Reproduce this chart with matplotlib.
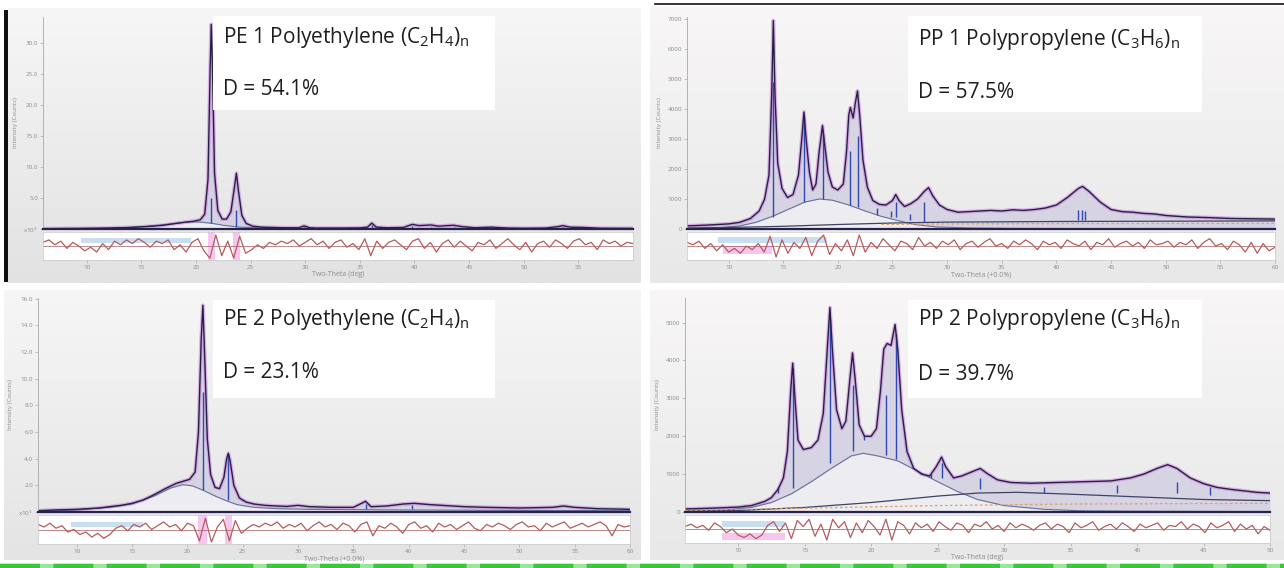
import numpy as np
import matplotlib
matplotlib.use("Agg")
import matplotlib.pyplot as plt
from matplotlib.patches import Rectangle
from matplotlib.lines import Line2D
from matplotlib.colors import LinearSegmentedColormap

plt.rcParams['font.family'] = ['Open Sans', 'DejaVu Sans']
plt.rcParams['mathtext.fontset'] = 'custom'
plt.rcParams['mathtext.rm'] = 'Open Sans'

W, H = 1284, 568

## ---------------- data ----------------
# PE 1 (intensity in 10^3 counts)
pe1_x = [6, 8, 10, 12, 14, 16, 17, 18, 19, 19.8, 20.4, 20.8, 21.1, 21.3, 21.4, 21.5, 21.7, 22.0,
         22.4, 22.8, 23.2, 23.5, 23.7, 23.9, 24.2, 24.6, 25.2, 26, 27, 28, 29.4, 29.9, 30.4, 31,
         33, 35, 35.7, 36.1, 36.5, 37.5, 39, 39.8, 40.4, 41, 41.5, 42.2, 43, 43.6, 44.3, 45.5,
         47, 48.5, 50, 52, 53.2, 53.6, 54.2, 55.5, 57, 60]
pe1_y = [0.05, 0.08, 0.1, 0.15, 0.25, 0.45, 0.6, 0.85, 1.1, 1.25, 1.5, 2.4, 8, 26, 33, 27, 9, 3.0,
         1.6, 1.6, 2.8, 6.5, 9.0, 6.0, 2.2, 0.9, 0.45, 0.3, 0.25, 0.2, 0.2, 0.5, 0.2, 0.15,
         0.15, 0.18, 0.3, 0.95, 0.3, 0.2, 0.25, 0.75, 0.55, 0.6, 0.65, 0.45, 0.55, 0.6, 0.4, 0.2,
         0.3, 0.15, 0.12, 0.15, 0.4, 0.55, 0.3, 0.25, 0.12, 0.1]
pe1_am_x = [6, 10, 13, 15, 17, 18.5, 19.5, 20.5, 21.5, 22.5, 24, 26, 28, 31, 35, 40, 50, 60]
pe1_am_y = [0.03, 0.08, 0.18, 0.35, 0.7, 1.0, 1.15, 1.1, 0.9, 0.6, 0.3, 0.15, 0.1, 0.08, 0.07, 0.06, 0.05, 0.05]
pe1_st_x = [21.4, 23.7, 29.9, 36.1, 39.8, 41.5, 43.6, 53.6, 55.0]
pe1_st_lo = [0.9, 0.3, 0.1, 0.1, 0.1, 0.1, 0.1, 0.1, 0.1]
pe1_st_hi = [5.0, 3.0, 0.4, 0.7, 0.5, 0.4, 0.4, 0.4, 0.3]
pe1_res = [0.3, 0.5, 0.1, 0.4, -0.2, 0.3, 0.0, -0.4, -0.1, -0.5, 0.2, -0.3, 0.4, 0.1, 0.5, 0.2, 0.6, 0.3, -0.1, 0.4,
           0.2, 0.5, -0.3, 0.1, -0.5, 0.3, 0.6, -0.4, -1.0, 0.9, -0.8, 0.4, -1.0, 0.8, -0.6, -0.3, 0.1, -0.2, 0.3, 0.1,
           0.4, 0.2, 0.5, 0.0, 0.3, 0.6, 0.1, 0.4, -0.2, 0.3, 0.5, -0.1, 0.2, -0.3, 0.6, -0.8, 0.4, -0.2, 0.3, 0.5,
           0.1, -0.3, 0.4, 0.6, -0.2, 0.3, -0.5, 0.2, 0.5, -0.1, 0.4, 0.0, -0.4, 0.3, 0.1, 0.5, -0.2, 0.2, 0.6, 0.1,
           -0.3, 0.3, -0.5, 0.2, 0.4, -0.1, 0.5, 0.2, -0.2, 0.4, 0.6, 0.1, 0.3, -0.3, 0.5, 0.2, 0.4, 0.0, 0.3, 0.2]

# PP 1 (counts)
pp1_x = [6, 8, 10, 11, 12, 12.8, 13.3, 13.7, 13.95, 14.1, 14.25, 14.5, 14.9, 15.4, 15.9, 16.4, 16.7,
         16.9, 17.1, 17.4, 17.7, 18.0, 18.3, 18.6, 18.8, 19.1, 19.5, 20.0, 20.5, 20.8, 21.0, 21.15,
         21.4, 21.6, 21.8, 22.0, 22.3, 22.7, 23.2, 23.8, 24.4, 25.0, 25.3, 25.6, 26.1, 26.7, 27.3,
         27.9, 28.3, 28.7, 29.3, 30, 31, 32, 33, 34, 35, 36, 37, 38, 39, 40, 41, 42, 42.4, 43, 44,
         45, 46, 47, 48, 49, 50, 52, 54, 56, 58, 60]
pp1_y = [100, 130, 170, 220, 350, 600, 1000, 1800, 4500, 6950, 4500, 2200, 1350, 1050, 1150, 1800, 3000,
         3900, 3000, 1900, 1300, 1500, 2600, 3450, 2800, 1900, 1400, 1300, 1500, 2600, 3800, 4050,
         3700, 4200, 4600, 3800, 2300, 1400, 950, 820, 800, 950, 1150, 950, 750, 850, 1000,
         1250, 1380, 1100, 800, 650, 560, 580, 600, 620, 600, 640, 620, 650, 700, 800, 1050, 1350, 1420, 1250, 900,
         650, 580, 560, 520, 500, 450, 400, 380, 350, 340, 330]
pp1_am_x = [6, 9, 11, 12.5, 14, 15.5, 17, 18.3, 19.5, 21, 22.5, 24, 25.5, 27, 29, 32, 36, 40, 45, 50, 55, 60]
pp1_am_y = [20, 40, 100, 220, 420, 660, 900, 1000, 960, 800, 600, 420, 280, 150, 70, 35, 20, 15, 10, 10, 10, 10]
pp1_bg_x = [6, 10, 15, 20, 25, 30, 40, 50, 60]
pp1_bg_y = [30, 50, 90, 150, 200, 230, 250, 260, 270]
pp1_or_x = [24, 30, 40, 50, 60]
pp1_or_y = [150, 170, 180, 185, 190]
pp1_st_x = [14.1, 16.9, 18.6, 21.1, 21.85, 23.6, 24.9, 25.3, 26.6, 27.9, 42.0, 42.3, 42.6]
pp1_st_lo = [400, 900, 1000, 800, 750, 480, 400, 400, 300, 250, 300, 300, 300]
pp1_st_hi = [4900, 3800, 3200, 2600, 3100, 700, 600, 900, 500, 900, 650, 650, 600]
pp1_res = [0.3, 0.1, 0.4, -0.2, 0.2, -0.4, 0.1, -0.5, -0.2, -0.6, 0.0, -0.3, 0.2, -0.5, 0.8, -0.9, 0.5, -0.6, 0.3, -0.2,
           0.7, -0.8, 0.4, 0.9, -0.7, 0.2, -0.4, 0.5, -0.8, 0.9, -0.5, 0.3, -0.2, 0.6, 0.1, -0.4, 0.4, 0.2, -0.3, 0.7,
           0.0, 0.3, -0.2, 0.4, 0.1, 0.5, -0.3, 0.2, 0.4, -0.1, 0.3, 0.6, 0.0, 0.2, -0.2, 0.4, 0.1, 0.5, 0.2, -0.3,
           0.4, 0.1, 0.3, -0.2, 0.5, 0.2, 0.0, 0.4, -0.3, 0.3, 0.1, 0.6, -0.1, 0.2, 0.4, 0.0, 0.3, -0.2, 0.5, 0.1,
           0.2, 0.4, -0.1, 0.3, 0.1, 0.5, -0.2, 0.3, 0.6, 0.0, 0.2, -0.3, 0.4, 0.1, -0.5, 0.3, -0.6, 0.2, -0.4, -0.1]

# PE 2 (intensity in 10^3 counts)
pe2_x = [6.5, 8, 10, 12, 14, 15, 16, 17, 18, 19, 19.6, 20.2, 20.7, 21.0, 21.25, 21.4, 21.55, 21.8,
         22.1, 22.5, 22.9, 23.3, 23.55, 23.7, 23.85, 24.2, 24.7, 25.3, 26, 27, 28, 29, 30, 31, 33,
         35, 36.1, 36.6, 38, 39.5, 40.5, 42, 43, 45, 47, 50, 53, 54, 55, 57, 60]
pe2_y = [0.1, 0.15, 0.2, 0.3, 0.5, 0.65, 0.9, 1.3, 1.75, 2.15, 2.3, 2.45, 3.0, 6, 13, 15.5, 12, 5.5,
         2.8, 1.85, 1.75, 2.6, 4.0, 4.4, 3.9, 2.0, 1.05, 0.75, 0.6, 0.5, 0.45, 0.42, 0.5, 0.4, 0.35,
         0.35, 0.8, 0.4, 0.45, 0.6, 0.65, 0.55, 0.5, 0.4, 0.35, 0.3, 0.35, 0.45, 0.35, 0.25, 0.2]
pe2_am_x = [6.5, 10, 13, 15, 17, 18.5, 19.6, 20.5, 21.5, 22.5, 23.5, 24.5, 26, 28, 31, 35, 40, 50, 60]
pe2_am_y = [0.05, 0.15, 0.35, 0.6, 1.2, 1.8, 2.05, 1.95, 1.6, 1.2, 0.85, 0.55, 0.35, 0.25, 0.2, 0.18, 0.15, 0.12, 0.1]
pe2_st_x = [21.4, 23.7, 36.1, 40.3]
pe2_st_lo = [1.65, 0.9, 0.2, 0.2]
pe2_st_hi = [9.0, 4.4, 0.6, 0.5]
pe2_res = [0.4, 0.2, 0.5, 0.1, 0.3, -0.2, 0.0, -0.4, -0.2, -0.6, -0.3, -0.7, -0.4, 0.1, 0.3, -0.1, 0.4, 0.2, 0.5, 0.0,
           0.3, 0.6, 0.2, 0.4, -0.1, 0.5, 0.3, -0.9, 0.9, -1.0, 0.2, 0.8, -0.9, 0.7, -0.3, 0.1, 0.4, 0.2, 0.5, 0.3,
           0.6, 0.1, 0.4, 0.2, 0.5, -0.1, 0.3, 0.6, 0.2, 0.4, 0.0, 0.5, 0.3, -0.2, 0.4, 0.6, -0.5, 0.3, 0.1, 0.5,
           0.2, -0.3, 0.4, 0.6, 0.1, 0.3, -0.2, 0.5, 0.2, 0.4, 0.0, 0.3, 0.6, 0.1, -0.1, 0.4, 0.2, 0.5, 0.3, 0.0,
           0.4, 0.6, 0.2, 0.3, -0.1, 0.5, 0.2, 0.4, 0.6, 0.1, 0.3, 0.5, 0.2, 0.4, 0.6, 0.3, -0.5, 0.4, 0.2, 0.3]

# PP 2 (counts)
pp2_x = [6, 8, 10, 11, 12, 12.5, 13.0, 13.4, 13.7, 13.95, 14.1, 14.25, 14.5, 14.9, 15.5, 16.0, 16.4,
         16.7, 16.9, 17.1, 17.4, 17.8, 18.1, 18.4, 18.6, 18.8, 19.1, 19.5, 20.0, 20.4, 20.7, 20.95,
         21.2, 21.5, 21.8, 22.0, 22.3, 22.7, 23.2, 23.8, 24.4, 24.9, 25.3, 25.6, 26.2, 26.8, 27.5,
         28.2, 28.8, 29.5, 30.5, 32, 34, 36, 38, 39.5, 40.5, 41.5, 42.3, 43, 44, 45, 46, 47, 48, 49, 50]
pp2_y = [80, 100, 130, 170, 280, 380, 600, 900, 1600, 3200, 3930, 3100, 1900, 1650, 1700, 1900, 2600,
         4300, 5400, 4200, 2700, 2200, 2400, 3500, 4200, 3500, 2300, 2000, 2000, 2200, 3200, 4300,
         4450, 4400, 4950, 4300, 2700, 1600, 1150, 1000, 950, 1200, 1450, 1200, 900, 950, 1050,
         1150, 1000, 850, 780, 760, 780, 800, 820, 900, 1000, 1150, 1250, 1150, 900, 750, 650, 600, 560, 520, 500]
pp2_am_x = [6, 9, 11, 12.5, 14, 15.5, 17, 18.5, 19.4, 20.5, 22, 23.5, 25, 26.5, 28, 30, 33, 36, 40, 45, 50]
pp2_am_y = [20, 50, 120, 250, 480, 800, 1150, 1480, 1550, 1480, 1350, 1080, 800, 540, 330, 170, 70, 30, 20, 15, 10]
pp2_bg_x = [6, 10, 15, 20, 25, 28, 31, 35, 40, 45, 50]
pp2_bg_y = [20, 40, 120, 250, 420, 500, 520, 470, 400, 330, 300]
pp2_or_x = [6, 15, 25, 35, 50]
pp2_or_y = [40, 100, 170, 210, 230]
pp2_st_x = [13.0, 14.1, 16.9, 18.6, 19.5, 21.1, 21.9, 24.5, 25.3, 28.2, 33.0, 38.5, 43.0, 45.5]
pp2_st_lo = [500, 630, 1300, 1600, 1900, 1500, 1400, 900, 900, 600, 500, 500, 500, 450]
pp2_st_hi = [650, 3800, 5100, 3350, 2000, 3100, 4700, 1000, 1300, 900, 650, 700, 800, 650]
pp2_res = [0.2, 0.4, 0.1, 0.3, -0.1, 0.5, 0.2, -0.3, 0.0, -0.5, -0.7, -0.4, -0.8, -0.5, 0.3, 0.6, -0.2, 0.5, -0.8, 0.7,
           0.2, 0.8, -0.6, 0.4, -0.9, 0.8, 0.1, 0.6, -0.7, 0.5, -0.3, 0.7, 0.2, -0.5, 0.8, -0.9, 0.6, 0.3, -0.4, 0.5,
           0.1, 0.4, -0.2, 0.6, 0.2, -0.1, 0.5, 0.3, -0.3, 0.4, 0.2, 0.6, 0.0, 0.3, -0.2, 0.5, 0.1, 0.4, 0.2, -0.1,
           0.3, 0.5, 0.0, 0.4, 0.2, -0.3, 0.5, 0.1, 0.3, 0.6, -0.1, 0.2, 0.4, 0.0, 0.5, 0.2, -0.2, 0.4, 0.1, 0.3,
           0.5, -0.1, 0.3, 0.2, 0.6, 0.0, 0.4, 0.2, -0.3, 0.5, 0.1, 0.3, 0.6, -0.2, 0.4, 0.0, 0.3, -0.4, 0.2, -0.1]

pe_ticks = [5, 10, 15, 20, 25, 30]
pe2_ticks = [2, 4, 6, 8, 10, 12, 14, 16]
pp1_ticks = [1000, 2000, 3000, 4000, 5000, 6000, 7000]
pp2_ticks = [1000, 2000, 3000, 4000, 5000]

titles = [r'PE 1 Polyethylene (C$_2$H$_4$)$_{\mathrm{n}}$', r'PP 1 Polypropylene (C$_3$H$_6$)$_{\mathrm{n}}$',
          r'PE 2 Polyethylene (C$_2$H$_4$)$_{\mathrm{n}}$', r'PP 2 Polypropylene (C$_3$H$_6$)$_{\mathrm{n}}$']
d_values = ['D = 54.1%', 'D = 57.5%', 'D = 23.1%', 'D = 39.7%']


def box(x0, y0, x1, y1):
    return [x0 / W, 1 - y1 / H, (x1 - x0) / W, (y1 - y0) / H]


fig = plt.figure(figsize=(W / 100, H / 100), dpi=100)
fig.patch.set_facecolor('white')

## grey gradient backgrounds of the four screenshots
grad = np.linspace(0, 1, 256).reshape(-1, 1)
for (x0, y0, x1, y1), c_top, c_bot in [((8, 8, 641, 283), '#f6f6f6', '#e2e2e2'),
                                        ((650, 6, 1284, 283), '#f8f6f6', '#e8e8e8'),
                                        ((4, 290, 641, 560), '#f6f6f6', '#e4e4e4'),
                                        ((650, 290, 1284, 560), '#f8f6f6', '#e8e8e8')]:
    bga = fig.add_axes(box(x0, y0, x1, y1), zorder=-5)
    bga.imshow(grad, aspect='auto', cmap=LinearSegmentedColormap.from_list('g', [c_top, c_bot]),
               extent=[0, 1, 0, 1])
    bga.axis('off')


def draw_panel(main_px, res_px, xlim, ylim, yticks, ylabels, xticks, xlabel,
               ox, oy, ax_, ay_, sx, slo, shi, res, bands, bg=None, orange=None):
    ax = fig.add_axes(box(*main_px))
    ax.patch.set_alpha(0)
    ax.set_xlim(*xlim)
    ax.set_ylim(*ylim)
    ax.fill_between(ox, oy, 0, color='#cfcbe0', lw=0, alpha=0.75)
    ax.fill_between(ax_, ay_, 0, color='#f0f0f3', lw=0, alpha=0.9)
    ax.plot(ox, oy, color='#cc80dc', lw=2.8, alpha=0.55, solid_joinstyle='round')
    ax.plot(ax_, ay_, color='#66709a', lw=0.8)
    if bg is not None:
        ax.plot(bg[0], bg[1], color='#3f4262', lw=0.9)
    if orange is not None:
        ax.plot(orange[0], orange[1], color='#e0a060', lw=0.9, ls=(0, (2, 2)))
    ax.vlines(sx, slo, shi, color='#3048b0', lw=1.0)
    ax.plot(ox, oy, color='#242046', lw=1.0, solid_joinstyle='round')
    for s in ['top', 'right']:
        ax.spines[s].set_visible(False)
    ax.spines['left'].set_color('#a8a8a8')
    ax.spines['left'].set_linewidth(0.6)
    ax.spines['bottom'].set_color('#26224a')
    ax.spines['bottom'].set_linewidth(1.6)
    ax.set_xticks([])
    ax.set_yticks([0] + yticks)
    ax.set_yticklabels(ylabels, fontsize=4.5, color='#8c8c8c')
    ax.tick_params(axis='y', length=2, width=0.5, color='#a8a8a8', pad=1.5)
    ax.set_ylabel('Intensity (Counts)', fontsize=4.5, color='#8c8c8c', labelpad=4)

    rx = fig.add_axes(box(*res_px))
    rx.set_facecolor('white')
    rx.set_xlim(*xlim)
    rx.set_ylim(-1.15, 1.15)
    for a, b, col, lo, hi in bands:
        rx.axvspan(a, b, ymin=lo, ymax=hi, color=col, lw=0, alpha=0.8)
    rx.axhline(0, color='#a45a5a', lw=0.5)
    res_x = np.linspace(xlim[0], xlim[1], len(res))
    rx.plot(res_x, res, color='#c9625f', lw=0.9)
    rx.plot(res_x, res, color='#6d5d6d', lw=0.3, alpha=0.6)
    for s in rx.spines.values():
        s.set_color('#c8c8c8')
        s.set_linewidth(0.5)
    rx.set_yticks([])
    rx.set_xticks(xticks)
    rx.set_xticklabels([str(t) for t in xticks], fontsize=4.5, color='#8c8c8c')
    rx.tick_params(axis='x', length=2, width=0.5, color='#a8a8a8', pad=1.5)
    rx.set_xlabel(xlabel, fontsize=5, color='#8c8c8c', labelpad=1)


blue = '#bcd6ec'
pink = '#f4b8ee'

draw_panel((43, 17, 633, 229), (43, 232, 633, 260), (6, 60), (0, 34.2), pe_ticks,
           ['x10$^3$'] + ['%.1f' % t for t in pe_ticks], list(range(10, 60, 5)), 'Two-Theta (deg)',
           pe1_x, pe1_y, pe1_am_x, pe1_am_y, pe1_st_x, pe1_st_lo, pe1_st_hi, pe1_res,
           [(9.5, 19.5, blue, 0.62, 0.8), (21.1, 21.7, pink, 0, 1), (23.4, 24.0, pink, 0, 1)])

draw_panel((687, 17, 1275, 229), (687, 232, 1275, 260), (6.2, 60), (0, 7067), pp1_ticks,
           ['0'] + [str(t) for t in pp1_ticks], list(range(10, 65, 5)), 'Two-Theta (+0.0%)',
           pp1_x, pp1_y, pp1_am_x, pp1_am_y, pp1_st_x, pp1_st_lo, pp1_st_hi, pp1_res,
           [(9.0, 19.0, blue, 0.62, 0.82), (9.5, 14.0, pink, 0.2, 0.5)],
           bg=(pp1_bg_x, pp1_bg_y), orange=(pp1_or_x, pp1_or_y))

draw_panel((38, 298, 630, 512), (38, 515, 630, 544), (6.5, 60), (0, 16.05), pe2_ticks,
           ['x10$^3$'] + ['%.1f' % t for t in pe2_ticks], list(range(10, 65, 5)), 'Two-Theta (+0.0%)',
           pe2_x, pe2_y, pe2_am_x, pe2_am_y, pe2_st_x, pe2_st_lo, pe2_st_hi, pe2_res,
           [(9.5, 16.0, blue, 0.58, 0.76), (21.0, 21.8, pink, 0, 1), (23.4, 24.0, pink, 0, 1)])

draw_panel((685, 298, 1270, 512), (685, 515, 1270, 543), (6, 50), (0, 5650), pp2_ticks,
           ['0'] + [str(t) for t in pp2_ticks], list(range(10, 55, 5)), 'Two-Theta (deg)',
           pp2_x, pp2_y, pp2_am_x, pp2_am_y, pp2_st_x, pp2_st_lo, pp2_st_hi, pp2_res,
           [(8.8, 13.5, blue, 0.58, 0.8), (8.8, 13.5, pink, 0.1, 0.35)],
           bg=(pp2_bg_x, pp2_bg_y), orange=(pp2_or_x, pp2_or_y))

## white label boxes
for (x0, y0, x1, y1), ty, dy, title, dv in [((213, 16, 495, 110), 38, 89, titles[0], d_values[0]),
                                            ((908, 16, 1202, 112), 39, 92, titles[1], d_values[1]),
                                            ((213, 300, 495, 398), 319, 373, titles[2], d_values[2]),
                                            ((908, 300, 1202, 398), 319, 375, titles[3], d_values[3])]:
    fig.add_artist(Rectangle((x0 / W, 1 - y1 / H), (x1 - x0) / W, (y1 - y0) / H,
                             transform=fig.transFigure, facecolor='white', edgecolor='none', zorder=5))
    fig.text((x0 + 10) / W, 1 - ty / H, title, fontsize=15, color='#1e1e1e', va='center', zorder=6)
    fig.text((x0 + 10) / W, 1 - dy / H, dv, fontsize=15, color='#1e1e1e', va='center', zorder=6)

## screenshot edges
fig.add_artist(Rectangle((4 / W, 1 - 282 / H), 4 / W, 272 / H, transform=fig.transFigure,
                         facecolor='#111111', edgecolor='none'))
fig.add_artist(Line2D([655 / W, 1], [1 - 4 / H, 1 - 4 / H], transform=fig.transFigure,
                      color='#111111', lw=1.2))
fig.add_artist(Line2D([0, 1], [1 - 565.5 / H, 1 - 565.5 / H], transform=fig.transFigure,
                      color='#9be69b', lw=3.2))
fig.add_artist(Line2D([0, 1], [1 - 565.5 / H, 1 - 565.5 / H], transform=fig.transFigure,
                      color='#3cc63c', lw=3.2, ls=(0, (9, 3))))

fig.savefig('out.png', dpi=100, facecolor=fig.get_facecolor())
